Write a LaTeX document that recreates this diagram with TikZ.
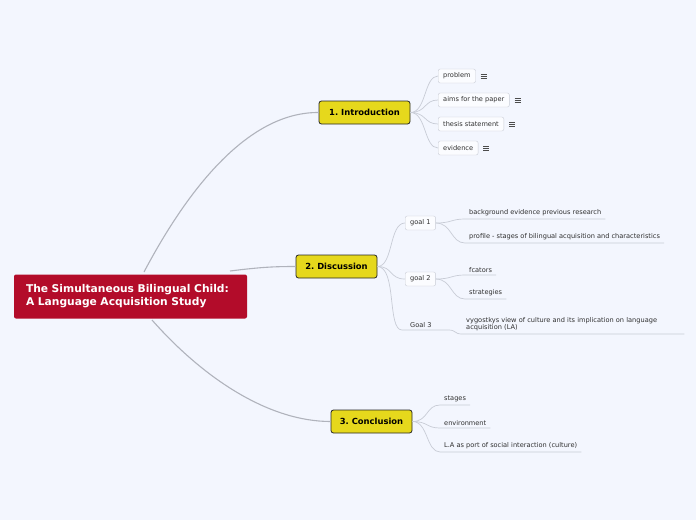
\documentclass[tikz,border=0pt]{standalone}
\usepackage{fontspec}
\setmainfont{DejaVu Sans}
\usetikzlibrary{positioning}
\frenchspacing

\definecolor{bgcol}{HTML}{F3F6FE}
\definecolor{rootred}{HTML}{B30C2A}
\definecolor{topicyel}{HTML}{E6D81C}
\definecolor{linegray}{HTML}{B0B3BC}
\definecolor{boxgray}{HTML}{C8CCD6}
\definecolor{txtgray}{HTML}{2E2E2E}

\tikzset{
  root/.style={fill=rootred, rounded corners=2pt, text=white, align=left,
    font=\fontsize{10.7}{13}\selectfont\bfseries, minimum width=233pt,
    minimum height=44pt, text width=209pt, inner xsep=12pt},
  topic/.style={draw=black!85, fill=topicyel, rounded corners=2.5pt, line width=0.8pt,
    font=\fontsize{8.4}{9}\selectfont\bfseries, minimum height=23pt},
  sub/.style={draw=boxgray, fill=white!70!bgcol, rounded corners=2pt, text=txtgray,
    font=\fontsize{6.6}{7.5}\selectfont, minimum height=14pt, inner xsep=5pt, anchor=west},
  leaf/.style={text=txtgray, font=\fontsize{6.6}{7.8}\selectfont, align=left,
    inner xsep=4pt, inner ysep=2.5pt, anchor=south west},
  branch/.style={draw=linegray, line width=1.1pt},
  twig/.style={draw=boxgray, line width=0.7pt},
}

\begin{document}
\begin{tikzpicture}[x=1pt, y=-1pt]
  \fill[bgcol] (0,0) rectangle (696,520);

  % central topic
  \node[root] (main) at (130.5,296.5) {The Simultaneous Bilingual Child:\\A Language Acquisition Study};

  % main topics
  \node[topic, minimum width=91pt] (intro) at (364.5,112.5) {1. Introduction};
  \node[topic, minimum width=81pt] (disc) at (336.5,266.5) {2. Discussion};
  \node[topic, minimum width=81pt] (concl) at (371.5,421.5) {3. Conclusion};

  \draw[branch] (144,272) .. controls (190,185) and (250,112) .. (intro.west);
  \draw[branch] (230,271) .. controls (262,267) and (275,266.5) .. (disc.west);
  \draw[branch] (152,320) .. controls (205,380) and (270,421.5) .. (concl.west);

  % introduction
  \node[sub] (problem) at (438,76) {problem};
  \node[sub] (aims) at (438,100) {aims for the paper};
  \node[sub] (thesis) at (438,124) {thesis statement};
  \node[sub] (evid) at (438,148) {evidence};
  \foreach \n in {problem,aims,thesis,evid} {
    \draw[twig] (intro.east) .. controls +(16,0) and +(-14,0) .. (\n.west);
    \foreach \d in {-2,0,2}
      \draw[black!70, line width=0.8pt] ([xshift=5pt, yshift=\d pt]\n.east) -- +(6,0);
  }

  % discussion
  \node[sub] (goal1) at (405,223) {goal 1};
  \node[sub] (goal2) at (405,279) {goal 2};
  \node[leaf, text width=38pt] (goal3) at (402,330) {\hspace{4pt}Goal 3};
  \draw[twig] (disc.east) .. controls +(16,0) and +(-16,0) .. (goal1.west);
  \draw[twig] (disc.east) .. controls +(16,0) and +(-16,0) .. (goal2.west);
  \draw[twig] (disc.east) .. controls (397,267) and (387,330) .. (goal3.south west) -- (goal3.south east);

  \node[leaf] (bgev) at (465,219) {background evidence previous research};
  \node[leaf] (profile) at (465,243) {profile - stages of bilingual acquisition and characteristics};
  \node[leaf] (factors) at (465,275) {fcators};
  \node[leaf] (strat) at (465,299) {strategies};
  \node[leaf, text width=214pt] (vygo) at (462,334) {vygostkys view of culture and its implication on language\\acquisition (LA)};
  \foreach \p/\c in {goal1/bgev, goal1/profile, goal2/factors, goal2/strat}
    \draw[twig] (\p.east) .. controls +(16,0) and +(-14,0) .. (\c.south west) -- (\c.south east);
  \draw[twig] (goal3.south east) .. controls +(8,0) and +(-8,0) .. (vygo.south west) -- (vygo.south east);

  % conclusion
  \node[leaf] (stages) at (440,405) {stages};
  \node[leaf] (envir) at (440,428) {environment};
  \node[leaf] (social) at (440,452) {L.A as port of social interaction (culture)};
  \foreach \c in {stages,envir,social}
    \draw[twig] (concl.east) .. controls +(16,0) and +(-14,0) .. (\c.south west) -- (\c.south east);
\end{tikzpicture}
\end{document}
